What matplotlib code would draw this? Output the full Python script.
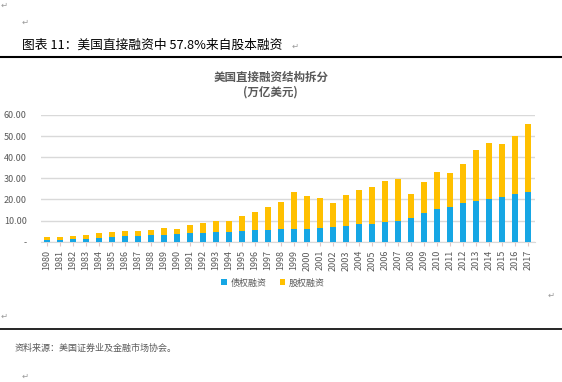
import matplotlib
matplotlib.use("Agg")
import matplotlib.pyplot as plt
from matplotlib.lines import Line2D

plt.rcParams['font.family'] = ['Noto Sans CJK SC', 'DejaVu Sans']

# 数据 (万亿美元)
years = [str(y) for y in range(1980, 2018)]
debt = [1.0, 1.0, 1.3, 1.5, 1.9, 2.3, 2.8, 2.8, 3.1, 3.3,
        3.5, 4.1, 4.3, 4.6, 4.8, 5.2, 5.5, 5.7, 5.9, 6.2,
        6.2, 6.6, 7.1, 7.6, 8.5, 8.5, 9.2, 9.8, 11.1, 13.5,
        15.5, 16.6, 18.2, 19.3, 20.4, 21.2, 22.4, 23.4]
total = [2.3, 2.2, 2.8, 3.3, 4.0, 4.4, 4.9, 4.9, 5.5, 6.3,
         6.2, 7.9, 8.7, 10.0, 10.0, 12.2, 14.1, 16.6, 19.0, 23.3,
         21.7, 20.6, 18.1, 22.2, 24.7, 25.8, 28.9, 29.8, 22.8, 28.4,
         32.8, 32.6, 36.9, 43.6, 46.8, 46.4, 50.1, 55.8]
equity = [round(t - d, 1) for t, d in zip(total, debt)]
yticks = [0, 10, 20, 30, 40, 50, 60]
ytick_labels = ['-', '10.00', '20.00', '30.00', '40.00', '50.00', '60.00']

W, H = 562, 382
fig = plt.figure(figsize=(W / 100, H / 100), dpi=100)
fig.patch.set_facecolor('white')

def fx(px):
    return px / W

def fy(py):
    return 1 - py / H

gray = '#595959'
mark = '#9a9a9a'

# 文档元素 (段落标记、标题、分隔线、来源)
for px, py in [(1, 5), (22, 22), (548, 295), (1, 316), (22, 376)]:
    fig.text(fx(px), fy(py), '↵', fontsize=6, color=mark, va='center', family=['DejaVu Sans'])
fig.text(fx(22), fy(45), '图表 11：美国直接融资中 57.8%来自股本融资', fontsize=9.2,
         color='black', va='center', ha='left')
fig.text(fx(292), fy(46), '↵', fontsize=6, color=mark, va='center', family=['DejaVu Sans'])
fig.add_artist(Line2D([0, 1], [fy(57), fy(57)], color='black', lw=1.5))
fig.add_artist(Line2D([0, 1], [fy(329), fy(329)], color='black', lw=1.2))
fig.text(fx(15), fy(348), '资料来源：美国证券业及金融市场协会。', fontsize=6.5,
         color=gray, va='center', ha='left')

# 图表标题
fig.text(fx(271), fy(77), '美国直接融资结构拆分', fontsize=8.3, fontweight='bold',
         color=gray, ha='center', va='center')
fig.text(fx(270), fy(92), '(万亿美元)', fontsize=8.3, fontweight='bold',
         color=gray, ha='center', va='center')

ax = fig.add_axes([fx(40.5), fy(241.7), fx(534.5) - fx(40.5), fy(115) - fy(241.7)])
x = range(len(years))
b1 = ax.bar(x, debt, width=0.42, color='#16A6E4', label='债权融资', zorder=3)
b2 = ax.bar(x, equity, width=0.42, bottom=debt, color='#FFC000', label='股权融资', zorder=3)

ax.set_xlim(-0.5, len(years) - 0.5)
ax.set_ylim(0, 60)
ax.set_yticks(yticks)
ax.set_yticklabels(ytick_labels)
ax.set_xticks(list(x))
ax.set_xticklabels(years, rotation=90)
ax.tick_params(axis='y', length=0, pad=10, labelsize=6.5, labelcolor=gray)
ax.tick_params(axis='x', length=3, color='#E0C8C8', pad=3, labelsize=6.5, labelcolor=gray)
ax.grid(axis='y', color='#D9D9D9', lw=1, zorder=0)
for s in ['top', 'right', 'left']:
    ax.spines[s].set_visible(False)
ax.spines['bottom'].set_color('#D9D9D9')

fig.legend(handles=[b1, b2], loc='center', bbox_to_anchor=(fx(273), fy(283)), ncol=2,
           frameon=False, fontsize=6.5, handlelength=0.6, handleheight=0.6,
           handletextpad=0.4, columnspacing=1.5, labelcolor=gray)

fig.savefig('out.png', dpi=100)
